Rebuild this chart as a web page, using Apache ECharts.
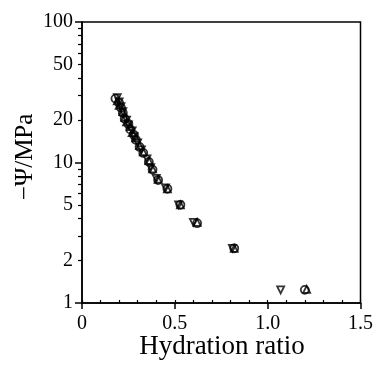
<!DOCTYPE html>
<html>
<head>
<meta charset="utf-8">
<script src="https://cdn.jsdelivr.net/npm/echarts@6/dist/echarts.min.js"></script>
<style>
  html, body { margin: 0; padding: 0; background: #fff; }
  #chart { width: 376px; height: 368px; }
</style>
</head>
<body>
<div id="chart"></div>
<script>
// open circles
const ratioA = [0.18, 0.20, 0.21, 0.22, 0.23, 0.25, 0.26, 0.28, 0.29, 0.31, 0.33, 0.36, 0.38, 0.41, 0.46, 0.53, 0.62, 0.82, 1.20]
const psiA = [28.5, 26.5, 24.5, 22.5, 20.5, 18.8, 17.2, 15.7, 14.5, 12.9, 11.7, 10.1, 8.9, 7.5, 6.5, 5.0, 3.7, 2.45, 1.24]
// triangles up
const ratioB = [0.19, 0.20, 0.22, 0.23, 0.24, 0.26, 0.27, 0.29, 0.31, 0.33, 0.36, 0.38, 0.41, 0.46, 0.53, 0.62, 0.82, 1.21]
const psiB = [27.5, 25.5, 23, 21, 19.5, 18, 16.3, 15, 13.2, 11.9, 10.3, 9.0, 7.6, 6.5, 5.0, 3.75, 2.45, 1.25]
// triangles down
const ratioC = [0.19, 0.20, 0.21, 0.22, 0.24, 0.25, 0.27, 0.28, 0.30, 0.32, 0.35, 0.37, 0.40, 0.45, 0.52, 0.60, 0.81, 1.07]
const psiC = [29, 27, 25, 23, 20, 18.5, 16.8, 15.3, 13.8, 12.3, 10.6, 9.2, 7.7, 6.6, 5.0, 3.75, 2.45, 1.24]

const yLabels = [1, 2, 5, 10, 20, 50, 100]
const yMajorTicks = [1, 10, 100]
const yMinorTicks = [2, 3, 4, 5, 6, 7, 8, 9, 20, 30, 40, 50, 60, 70, 80, 90]

const serif = '"Liberation Serif", "DejaVu Serif", serif'

const chart = echarts.init(document.getElementById('chart'))

function pairs(xs, ys) {
  return xs.map((x, i) => [x, ys[i]])
}

const markStyle = {
  color: 'rgba(0,0,0,0)',
  borderColor: '#000',
  borderWidth: 1.8
}

const option = {
  animation: false,
  grid: {
    left: 82,
    top: 22,
    width: 281,
    height: 281,
    show: true,
    borderColor: '#000',
    borderWidth: 1.5
  },
  xAxis: [
    {
      type: 'value',
      position: 'bottom',
      min: 0,
      max: 1.5,
      interval: 0.5,
      axisLine: { show: true, lineStyle: { color: '#000', width: 1.5 } },
      axisTick: { show: true, inside: false, length: 6, lineStyle: { color: '#000', width: 1.5 } },
      axisLabel: {
        color: '#000',
        fontFamily: serif,
        fontSize: 20,
        margin: 11,
        formatter: v => (v === 0 ? '0' : v.toFixed(1))
      },
      splitLine: { show: false }
    },
    {
      type: 'value',
      position: 'bottom',
      min: 0,
      max: 1.5,
      interval: 0.1,
      axisLine: { show: false },
      axisTick: { show: true, inside: true, length: 3, lineStyle: { color: '#000', width: 1.2 } },
      axisLabel: { show: false },
      splitLine: { show: false }
    }
  ],
  yAxis: [
    {
      type: 'log',
      logBase: 10,
      position: 'left',
      min: 1,
      max: 100,
      axisLine: { show: true, lineStyle: { color: '#000', width: 1.5 } },
      axisTick: { show: true, inside: false, length: 7, customValues: yMajorTicks, lineStyle: { color: '#000', width: 1.5 } },
      axisLabel: {
        color: '#000',
        fontFamily: serif,
        fontSize: 20,
        margin: 9,
        customValues: yLabels,
        formatter: v => String(Math.round(v))
      },
      splitLine: { show: false }
    },
    {
      type: 'log',
      logBase: 10,
      position: 'left',
      min: 1,
      max: 100,
      axisLine: { show: false },
      axisTick: { show: true, inside: false, length: 4, customValues: yMinorTicks, lineStyle: { color: '#000', width: 1.2 } },
      axisLabel: { show: false },
      splitLine: { show: false }
    }
  ],
  graphic: [
    {
      type: 'text',
      x: 222,
      y: 347,
      style: {
        text: 'Hydration ratio',
        fill: '#000',
        font: '27px ' + serif,
        textAlign: 'center',
        textVerticalAlign: 'middle'
      }
    },
    {
      type: 'text',
      x: 25,
      y: 157,
      rotation: Math.PI / 2,
      style: {
        text: '−Ψ/MPa',
        fill: '#000',
        font: '25px ' + serif,
        textAlign: 'center',
        textVerticalAlign: 'middle'
      }
    }
  ],
  series: [
    {
      type: 'scatter',
      xAxisIndex: 0,
      yAxisIndex: 0,
      symbol: 'circle',
      symbolSize: 8,
      itemStyle: markStyle,
      data: pairs(ratioA, psiA)
    },
    {
      type: 'scatter',
      xAxisIndex: 0,
      yAxisIndex: 0,
      symbol: 'triangle',
      symbolSize: 7,
      itemStyle: markStyle,
      data: pairs(ratioB, psiB)
    },
    {
      type: 'scatter',
      xAxisIndex: 0,
      yAxisIndex: 0,
      symbol: 'triangle',
      symbolRotate: 180,
      symbolSize: 7,
      itemStyle: markStyle,
      data: pairs(ratioC, psiC)
    }
  ]
}

chart.setOption(option)
</script>
</body>
</html>
